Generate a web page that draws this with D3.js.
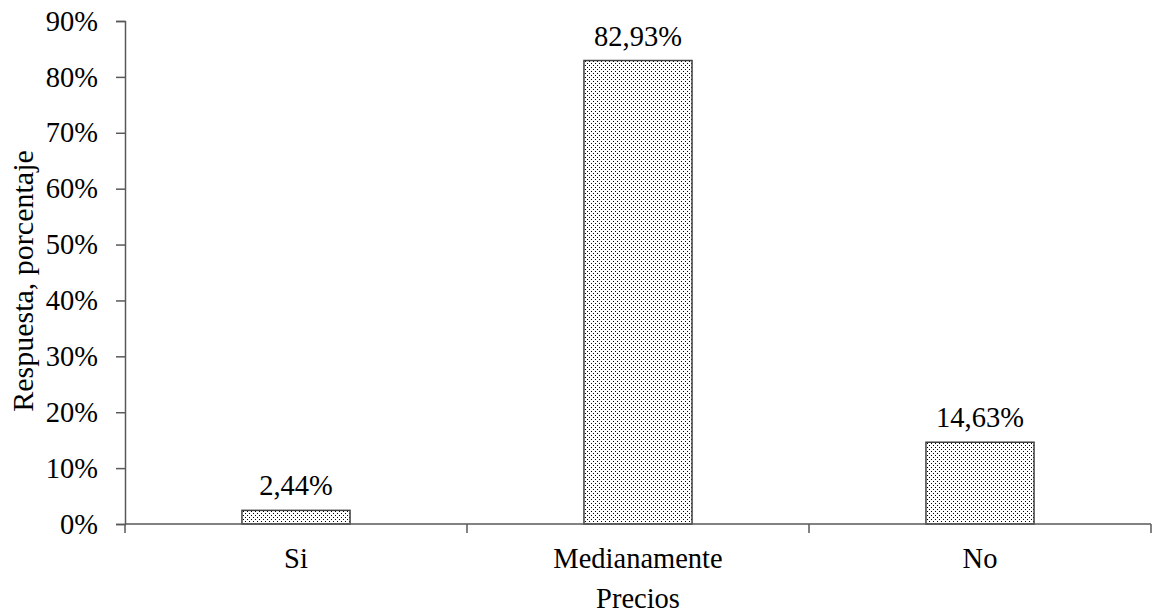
<!DOCTYPE html>
<html><head><meta charset="utf-8">
<script src="https://cdn.jsdelivr.net/npm/d3@7"></script>
<style>body{margin:0;background:#fff}svg{display:block}text{font-family:"Liberation Serif","Times New Roman",serif}</style>
</head><body><svg id="c" width="1152" height="613"></svg>
<script>
const categories = ["Si", "Medianamente", "No"];
const values = [2.44, 82.93, 14.63];
const valueLabels = ["2,44%", "82,93%", "14,63%"];
const yTicks = [0,10,20,30,40,50,60,70,80,90];
const xTitle = "Precios";
const yTitle = "Respuesta, porcentaje";

const FS = 28.5;
const FF = "Liberation Serif, Times New Roman, serif";
const svg = d3.select("#c");
const axisColor = "#595959";
const defs = svg.append("defs");
const pat = defs.append("pattern").attr("id","dots").attr("patternUnits","userSpaceOnUse")
  .attr("width",4).attr("height",4);
pat.append("rect").attr("width",4).attr("height",4).attr("fill","#fff");
pat.append("rect").attr("x",1).attr("y",1).attr("width",1).attr("height",1).attr("fill","#000");
pat.append("rect").attr("x",3).attr("y",3).attr("width",1).attr("height",1).attr("fill","#000");

const x = d3.scaleBand().domain(categories).range([125,1151]).paddingInner(0.684).paddingOuter(0.342);
const y = d3.scaleLinear().domain([0,90]).range([524,21]);

// bars
svg.selectAll("rect.bar").data(values).join("rect").attr("class","bar")
  .attr("x",(d,i)=>x(categories[i])).attr("width",x.bandwidth())
  .attr("y",d=>y(d)).attr("height",d=>y(0)-y(d))
  .attr("fill","url(#dots)").attr("stroke","#404040").attr("stroke-width",1.5);

// value labels
svg.selectAll("text.vl").data(values).join("text").attr("class","vl")
  .attr("x",(d,i)=>x(categories[i])+x.bandwidth()/2).attr("y",d=>y(d)-15)
  .attr("text-anchor","middle").attr("font-size",FS).attr("font-family",FF).attr("fill","#000")
  .text((d,i)=>valueLabels[i]);

// y axis
const ya = svg.append("g").attr("transform","translate(125,0)")
  .call(d3.axisLeft(y).tickValues(yTicks).tickSize(9).tickPadding(18).tickFormat(d=>d+"%"));
ya.select(".domain").attr("stroke",axisColor).attr("stroke-width",1.5);
ya.selectAll(".tick line").attr("stroke",axisColor).attr("stroke-width",1.5);
ya.selectAll(".tick text").attr("font-size",FS).attr("fill","#000").attr("font-family",FF);

// x axis
const step = x.step();
const xa = svg.append("g").attr("transform","translate(0,524)")
  .call(d3.axisBottom(x).tickSize(0).tickPadding(0));
xa.select(".domain").remove();
svg.append("line").attr("x1",125).attr("x2",1151).attr("y1",524).attr("y2",524)
  .attr("stroke",axisColor).attr("stroke-width",1.5);
const bounds = categories.map(c=>x(c) - step*x.paddingInner()/2).concat([1151]);
svg.selectAll("line.xt").data(bounds).join("line").attr("class","xt")
  .attr("x1",d=>d).attr("x2",d=>d).attr("y1",524).attr("y2",533)
  .attr("stroke",axisColor).attr("stroke-width",1.5);
xa.selectAll(".tick text").attr("font-size",FS).attr("fill","#000").attr("font-family",FF)
  .attr("y",44).attr("dy",null);

// titles
svg.append("text").attr("x",638).attr("y",608).attr("text-anchor","middle")
  .attr("font-size",FS).attr("font-family",FF).attr("fill","#000").text(xTitle);
svg.append("text").attr("transform","translate(33,281) rotate(-90)").attr("text-anchor","middle")
  .attr("font-size",30).attr("font-family",FF).attr("fill","#000").text(yTitle);
</script></body></html>
